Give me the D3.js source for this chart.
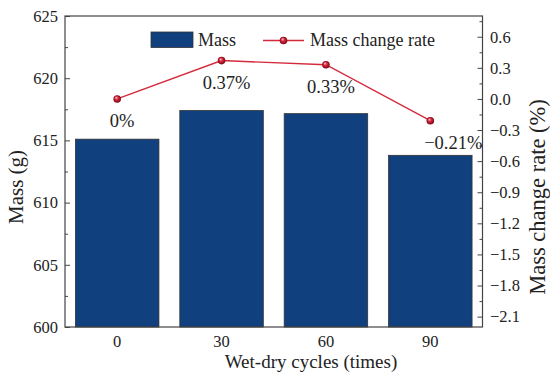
<!DOCTYPE html>
<html><head><meta charset="utf-8">
<script src="https://cdn.jsdelivr.net/npm/d3@7"></script>
<style>body{margin:0;background:#fff}svg{display:block}</style>
</head><body>
<svg id="c" width="550" height="380"></svg>
<script>
const categories = ["0", "30", "60", "90"];
const massValues = [615.1, 617.4, 617.15, 613.8];
const rateValues = [0, 0.37, 0.33, -0.21];
const rateLabels = ["0%", "0.37%", "0.33%", "\u22120.21%"];
const leftTicks = [600, 605, 610, 615, 620, 625];
const rightTicks = [-2.1, -1.8, -1.5, -1.2, -0.9, -0.6, -0.3, 0.0, 0.3, 0.6];

const FONT = "Liberation Serif, DejaVu Serif, serif";
const svg = d3.select("#c").style("font-family", FONT);
const L = 65, R = 482.5, T = 16, B = 327;
const x = d3.scaleBand().domain(categories).range([L, R]).paddingInner(0.2).paddingOuter(0.1);
const yL = d3.scaleLinear().domain([600, 625]).range([B, T]);
const yR = d3.scaleLinear().domain([-2.2, 0.8]).range([B, T]);
const axisColor = "#444";
const txtColor = "#222";

const defs = svg.append("defs");
const g = defs.append("radialGradient").attr("id", "sph").attr("cx", "50%").attr("cy", "50%").attr("r", "50%").attr("fx", "35%").attr("fy", "30%");
g.append("stop").attr("offset", "0%").attr("stop-color", "#ffd0d6");
g.append("stop").attr("offset", "45%").attr("stop-color", "#d8263c");
g.append("stop").attr("offset", "100%").attr("stop-color", "#7a0614");

svg.append("g").selectAll("rect").data(categories).join("rect")
  .attr("x", d => x(d)).attr("width", x.bandwidth())
  .attr("y", (d, i) => yL(massValues[i])).attr("height", (d, i) => B - yL(massValues[i]))
  .attr("fill", "#11407f").attr("stroke", "#333").attr("stroke-width", 0.8);

svg.append("rect").attr("x", L).attr("y", T).attr("width", R - L).attr("height", B - T)
  .attr("fill", "none").attr("stroke", axisColor).attr("stroke-width", 1.2);

function styleAxis(sel) {
  sel.attr("font-family", FONT).attr("font-size", 16.5);
  sel.select(".domain").remove();
  sel.selectAll("line").attr("stroke", axisColor);
  sel.selectAll("text").attr("font-family", FONT).style("font-size", "16.5px").attr("fill", txtColor);
}

const la = svg.append("g").attr("transform", `translate(${L},0)`)
  .call(d3.axisLeft(yL).tickValues(leftTicks).tickSize(-5).tickPadding(7).tickFormat(d3.format("d")));
styleAxis(la);
const laMinor = svg.append("g").attr("transform", `translate(${L},0)`)
  .call(d3.axisLeft(yL).tickValues(d3.range(602.5, 625, 5)).tickSize(-3).tickFormat(""));
styleAxis(laMinor);

const fmtR = d => (d < 0 ? "\u2212" : "") + Math.abs(d).toFixed(1);
const ra = svg.append("g").attr("transform", `translate(${R},0)`)
  .call(d3.axisRight(yR).tickValues(rightTicks).tickSize(-5).tickPadding(7.5).tickFormat(fmtR));
styleAxis(ra);
const raMinor = svg.append("g").attr("transform", `translate(${R},0)`)
  .call(d3.axisRight(yR).tickValues(d3.range(-1.95, 0.8, 0.3)).tickSize(-3).tickFormat(""));
styleAxis(raMinor);

const ba = svg.append("g").attr("transform", `translate(0,${B})`)
  .call(d3.axisBottom(x).tickSize(0).tickPadding(8));
styleAxis(ba);

const cx = d => x(d) + x.bandwidth() / 2;
const line = d3.line().x((d, i) => cx(categories[i])).y(d => yR(d));
svg.append("path").datum(rateValues).attr("d", line).attr("fill", "none").attr("stroke", "#d42a3c").attr("stroke-width", 1.4);
svg.append("g").selectAll("circle").data(rateValues).join("circle")
  .attr("cx", (d, i) => cx(categories[i])).attr("cy", d => yR(d)).attr("r", 3.8).attr("fill", "url(#sph)");

function txt(sel) { return sel.attr("font-family", FONT).attr("fill", txtColor); }

txt(svg.append("g").selectAll("text").data(rateLabels).join("text")
  .attr("x", (d, i) => cx(categories[i]) + (i === 3 ? 23 : 5))
  .attr("y", (d, i) => yR(rateValues[i]) + 28)
  .attr("text-anchor", "middle").style("font-size", "18.5px").text(d => d));

const lg = svg.append("g");
lg.append("rect").attr("x", 151).attr("y", 32).attr("width", 42).attr("height", 15.5).attr("fill", "#11407f").attr("stroke", "#333").attr("stroke-width", 0.8);
txt(lg.append("text").attr("x", 198).attr("y", 46).style("font-size", "18px").text("Mass"));
lg.append("line").attr("x1", 263).attr("x2", 304).attr("y1", 40.5).attr("y2", 40.5).attr("stroke", "#d42a3c").attr("stroke-width", 1.4);
lg.append("circle").attr("cx", 283.5).attr("cy", 40.5).attr("r", 3.8).attr("fill", "url(#sph)");
txt(lg.append("text").attr("x", 310).attr("y", 46).style("font-size", "18px").text("Mass change rate"));

txt(svg.append("text").attr("transform", "translate(23,187) rotate(-90)").attr("text-anchor", "middle").style("font-size", "21px").text("Mass (g)"));
txt(svg.append("text").attr("transform", "translate(545,197) rotate(-90)").attr("text-anchor", "middle").style("font-size", "22.5px").text("Mass change rate (%)"));
txt(svg.append("text").attr("x", 311).attr("y", 368).attr("text-anchor", "middle").style("font-size", "19px").text("Wet-dry cycles (times)"));
</script>
</body></html>
